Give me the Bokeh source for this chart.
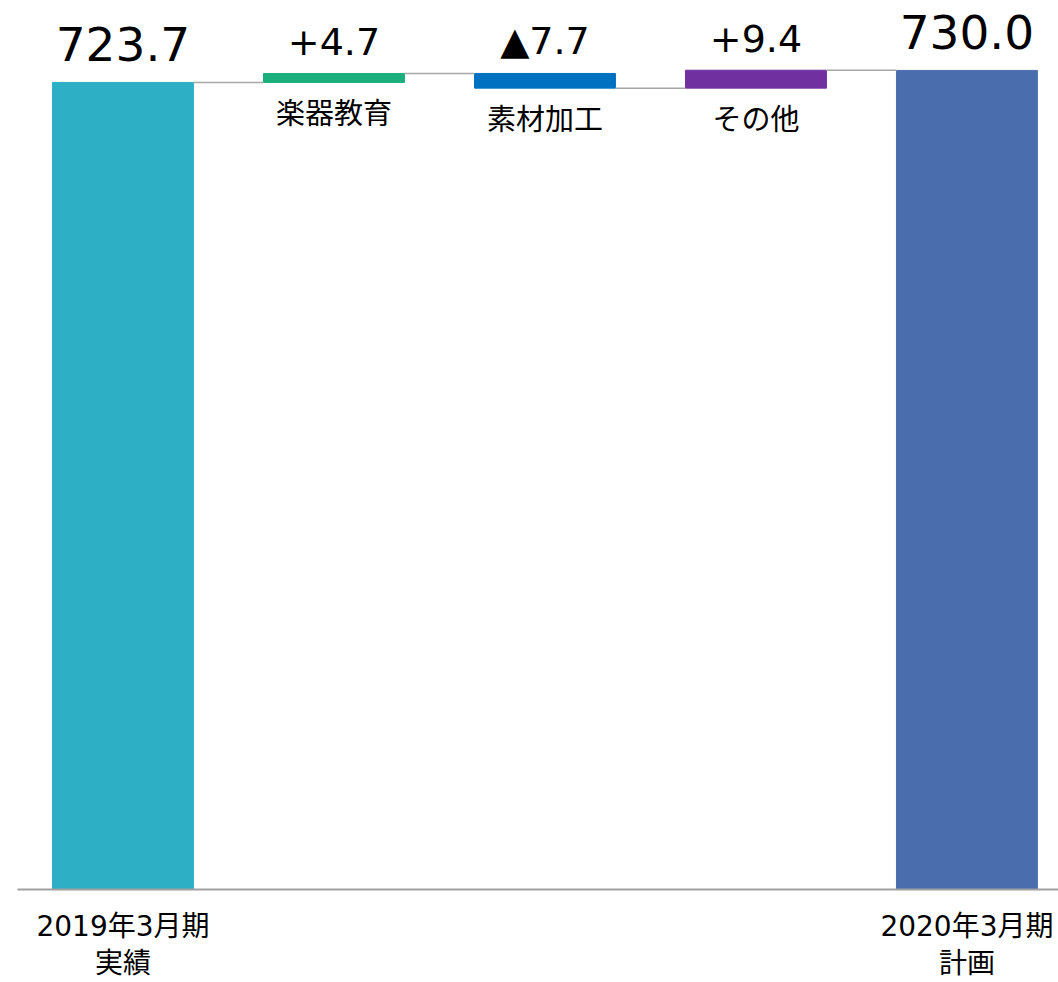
from bokeh.plotting import figure
from bokeh.models import Range1d, ColumnDataSource
from bokeh.core.properties import value
from bokeh.embed import file_html
from bokeh.resources import INLINE

# ---- data ----
categories = ["2019年3月期 実績", "楽器教育", "素材加工", "その他", "2020年3月期 計画"]
kinds = ["total", "delta", "delta", "delta", "total"]
values = [723.7, 4.7, -7.7, 9.4, 730.0]
value_labels = ["723.7", "+4.7", "▲7.7", "+9.4", "730.0"]
bottom_line1 = ["2019年3月期", "", "", "", "2020年3月期"]
bottom_line2 = ["実績", "", "", "", "計画"]
colors = ["#2DB0C5", "#1AAF7C", "#0070C0", "#7030A0", "#4A6EAD"]
axis_base = 300.0

# ---- waterfall geometry ----
xs = list(range(len(values)))
bottoms, tops = [], []
level = 0.0
for k, v in zip(kinds, values):
    if k == "total":
        b, t = axis_base, v
        level = v
    else:
        new = level + v
        b, t = min(level, new), max(level, new)
        level = new
    bottoms.append(b)
    tops.append(t)

bar_w = 0.668
src = ColumnDataSource(dict(x=xs, bottom=bottoms, top=tops, color=colors,
                            label=value_labels))

p = figure(width=1058, height=982, output_backend="svg", toolbar_location=None,
           x_range=Range1d(-0.5806, 4.434), y_range=Range1d(251.2, 766.7),
           min_border=0, outline_line_color=None)
p.axis.visible = False
p.grid.visible = False
p.background_fill_color = "white"

p.vbar(x="x", bottom="bottom", top="top", width=bar_w, color="color", source=src)

# connectors
levels = []
level = 0.0
for k, v in zip(kinds, values):
    level = v if k == "total" else level + v
    levels.append(level)
cx0 = [x + bar_w / 2 for x in xs[:-1]]
cx1 = [x + 1 - bar_w / 2 for x in xs[:-1]]
p.segment(x0=cx0, y0=levels[:-1], x1=cx1, y1=levels[:-1], line_color="#A6A6A6",
          line_width=1.5)

# baseline
p.segment(x0=[-0.5], y0=[axis_base], x1=[4.5], y1=[axis_base],
          line_color="#A0A0A0", line_width=2)

num_font = value("DejaVu Sans, Noto Sans CJK JP")
cjk_font = value("DejaVu Sans, Noto Sans CJK JP")

tot_idx = [i for i, k in enumerate(kinds) if k == "total"]
del_idx = [i for i, k in enumerate(kinds) if k == "delta"]

# total labels
p.text(x=[xs[i] for i in tot_idx], y=[tops[i] for i in tot_idx],
       text=[value_labels[i] for i in tot_idx], text_font=num_font,
       text_font_size="47px", text_align="center", text_baseline="middle",
       y_offset=-38, text_color="#000000")
# delta labels
p.text(x=[xs[i] for i in del_idx], y=[tops[i] for i in del_idx],
       text=[value_labels[i] for i in del_idx], text_font=num_font,
       text_font_size="38px", text_align="center", text_baseline="middle",
       y_offset=-32, text_color="#000000")
# delta category names
p.text(x=[xs[i] for i in del_idx], y=[bottoms[i] for i in del_idx],
       text=[categories[i] for i in del_idx], text_font=cjk_font,
       text_font_size="29px", text_align="center", text_baseline="middle",
       y_offset=32, text_color="#000000")
# bottom category names
p.text(x=[xs[i] for i in tot_idx], y=[axis_base] * len(tot_idx),
       text=[bottom_line1[i] for i in tot_idx], text_font=cjk_font,
       text_font_size="28px", text_align="center", text_baseline="middle",
       y_offset=37, text_color="#000000")
p.text(x=[xs[i] for i in tot_idx], y=[axis_base] * len(tot_idx),
       text=[bottom_line2[i] for i in tot_idx], text_font=cjk_font,
       text_font_size="28px", text_align="center", text_baseline="middle",
       y_offset=74, text_color="#000000")

open("out.html", "w").write(file_html(p, INLINE))
